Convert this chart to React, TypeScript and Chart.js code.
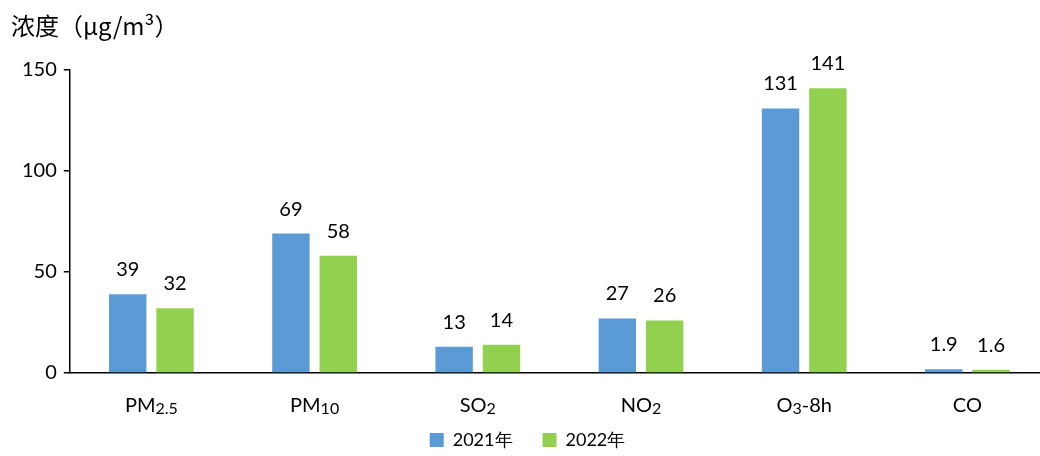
import React, { useEffect, useRef } from "react";
import { Chart, registerables } from "chart.js";

Chart.register(...registerables);

const categories = ["PM2.5", "PM10", "SO2", "NO2", "O3-8h", "CO"];
// label segments: [text, isSubscript]
const categoryParts: [string, boolean][][] = [
  [["PM", false], ["2.5", true]],
  [["PM", false], ["10", true]],
  [["SO", false], ["2", true]],
  [["NO", false], ["2", true]],
  [["O", false], ["3", true], ["-8h", false]],
  [["CO", false]],
];
const series2021 = [39, 69, 13, 27, 131, 1.9];
const series2022 = [32, 58, 14, 26, 141, 1.6];
const seriesNames = ["2021年", "2022年"];
const yTicks = [0, 50, 100, 150];
const yTitle = "浓度（μg/m³）";

const BLUE = "#5B9BD5";
const GREEN = "#92D050";
const NUM_FONT = "Lato, 'Open Sans', sans-serif";
const CJK_FONT = "'Noto Sans CJK SC', sans-serif";

const customPlugin = {
  id: "custom",
  afterLayout(chart: any) {
    // the category band runs slightly past the canvas' right edge, as in the reference
    const x = chart.scales.x;
    x.right = chart.width + 9;
    x.width = x.right - x.left;
    x.configure();
  },
  afterDraw(chart: any) {
    const ctx = chart.ctx;
    ctx.save();
    // title
    ctx.fillStyle = "#000";
    ctx.font = `24px ${CJK_FONT}`;
    ctx.textBaseline = "middle";
    ctx.textAlign = "left";
    ctx.fillText(yTitle, 11, 26);

    // data labels
    ctx.font = `20px ${NUM_FONT}`;
    ctx.textAlign = "center";
    ctx.textBaseline = "alphabetic";
    chart.data.datasets.forEach((ds: any, di: number) => {
      const meta = chart.getDatasetMeta(di);
      meta.data.forEach((bar: any, i: number) => {
        ctx.fillText(String(ds.data[i]), bar.x, bar.y - 18);
      });
    });

    // x category labels with subscripts
    const xScale = chart.scales.x;
    const baseY = chart.chartArea.bottom + 39;
    const mainSize = 20;
    const subSize = 16;
    categoryParts.forEach((parts, i) => {
      const cx = xScale.getPixelForValue(i);
      let total = 0;
      const widths = parts.map(([t, sub]) => {
        ctx.font = `${sub ? subSize : mainSize}px ${NUM_FONT}`;
        const w = ctx.measureText(t).width;
        total += w;
        return w;
      });
      let x = cx - total / 2;
      ctx.textAlign = "left";
      parts.forEach(([t, sub], k) => {
        ctx.font = `${sub ? subSize : mainSize}px ${NUM_FONT}`;
        ctx.fillText(t, x, baseY + (sub ? 2 : 0));
        x += widths[k];
      });
    });
    ctx.restore();
  },
};

export default function App() {
  const ref = useRef<HTMLCanvasElement>(null);
  useEffect(() => {
    document.body.style.margin = "0";
    const chart = new Chart(ref.current!, {
      type: "bar",
      data: {
        labels: categories,
        datasets: [
          { label: seriesNames[0], data: series2021, backgroundColor: BLUE },
          { label: seriesNames[1], data: series2022, backgroundColor: GREEN },
        ],
      },
      options: {
        animation: false,
        responsive: false,
        maintainAspectRatio: false,
        layout: { padding: { top: 70, left: 15, right: 0, bottom: -3 } },
        datasets: {
          bar: { categoryPercentage: 0.58, barPercentage: 0.79 },
        } as any,
        plugins: {
          legend: {
            position: "bottom",
            labels: {
              boxWidth: 14,
              boxHeight: 14,
              padding: 30,
              color: "#000",
              font: { size: 18, family: NUM_FONT },
            },
          },
          tooltip: { enabled: false },
          title: { display: false },
        },
        scales: {
          x: {
            grid: { display: false },
            border: { display: true, color: "#000", width: 1.5 },
            ticks: { display: false },
            afterFit: (scale: any) => {
              scale.height = 28;
            },
          },
          y: {
            min: 0,
            max: 150,
            afterBuildTicks: (scale: any) => {
              scale.ticks = yTicks.map((v) => ({ value: v }));
            },
            grid: {
              drawOnChartArea: false,
              drawTicks: true,
              tickLength: 6,
              color: "#000",
              lineWidth: 1.5,
            },
            border: { display: true, color: "#000", width: 1.5 },
            ticks: {
              color: "#000",
              padding: 7,
              font: { size: 20, family: NUM_FONT },
            },
          },
        },
      },
      plugins: [customPlugin],
    });
    return () => chart.destroy();
  }, []);
  return <canvas ref={ref} width={1040} height={456} style={{ display: "block" }} />;
}
